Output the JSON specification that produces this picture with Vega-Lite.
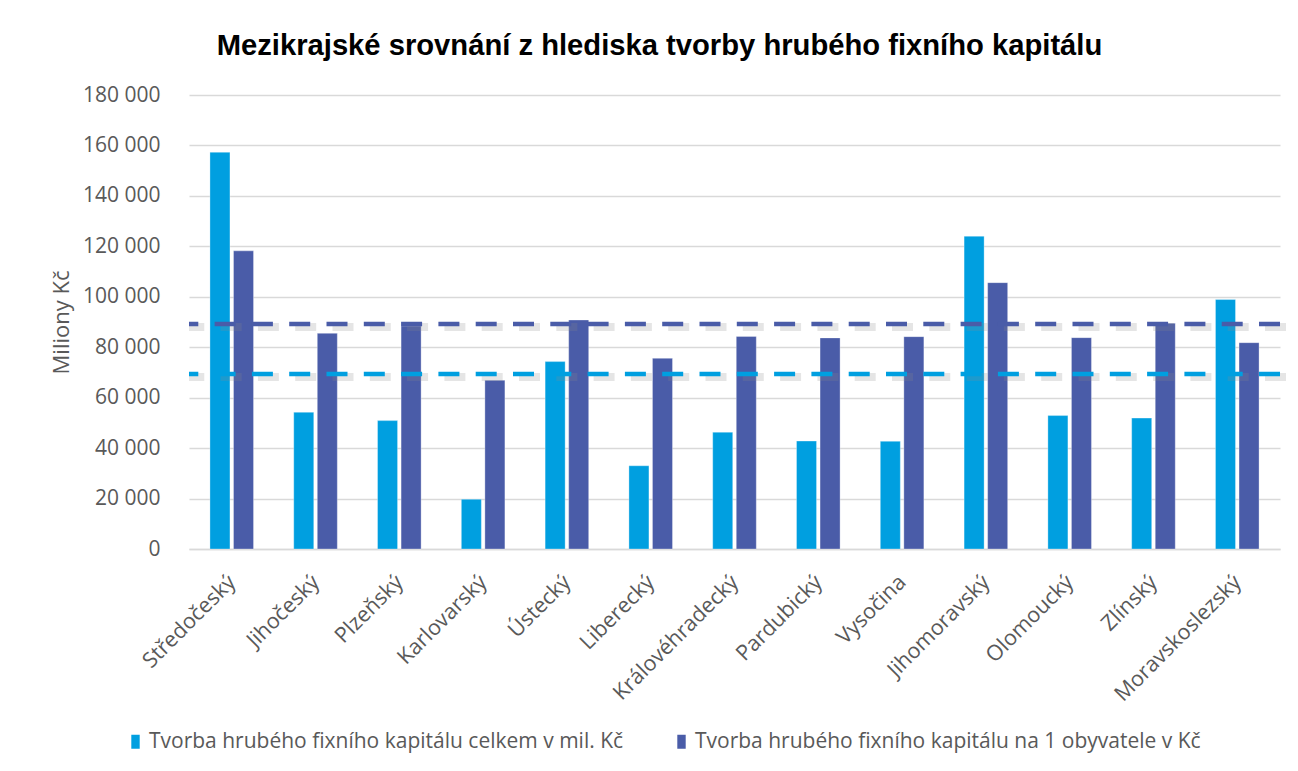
{
  "$schema": "https://vega.github.io/schema/vega-lite/v6.json",
  "width": 1091,
  "height": 454,
  "autosize": {"type": "none"},
  "padding": {"left": 189, "top": 95, "right": 18, "bottom": 222},
  "background": "white",
  "title": {
    "text": "Mezikrajské srovnání z hlediska tvorby hrubého fixního kapitálu",
    "font": "Liberation Sans",
    "fontSize": 29.2,
    "fontWeight": "bold",
    "color": "#000000",
    "anchor": "middle",
    "dx": -75,
    "offset": 23
  },
  "datasets": {
    "bars": [
      {"kraj": "Středočeský", "series": "Tvorba hrubého fixního kapitálu celkem v mil. Kč", "value": 157300},
      {"kraj": "Středočeský", "series": "Tvorba hrubého fixního kapitálu na 1 obyvatele v Kč", "value": 118200},
      {"kraj": "Jihočeský", "series": "Tvorba hrubého fixního kapitálu celkem v mil. Kč", "value": 54200},
      {"kraj": "Jihočeský", "series": "Tvorba hrubého fixního kapitálu na 1 obyvatele v Kč", "value": 85500},
      {"kraj": "Plzeňský", "series": "Tvorba hrubého fixního kapitálu celkem v mil. Kč", "value": 50900},
      {"kraj": "Plzeňský", "series": "Tvorba hrubého fixního kapitálu na 1 obyvatele v Kč", "value": 88400},
      {"kraj": "Karlovarský", "series": "Tvorba hrubého fixního kapitálu celkem v mil. Kč", "value": 19700},
      {"kraj": "Karlovarský", "series": "Tvorba hrubého fixního kapitálu na 1 obyvatele v Kč", "value": 66900},
      {"kraj": "Ústecký", "series": "Tvorba hrubého fixního kapitálu celkem v mil. Kč", "value": 74300},
      {"kraj": "Ústecký", "series": "Tvorba hrubého fixního kapitálu na 1 obyvatele v Kč", "value": 90800},
      {"kraj": "Liberecký", "series": "Tvorba hrubého fixního kapitálu celkem v mil. Kč", "value": 33000},
      {"kraj": "Liberecký", "series": "Tvorba hrubého fixního kapitálu na 1 obyvatele v Kč", "value": 75600},
      {"kraj": "Královéhradecký", "series": "Tvorba hrubého fixního kapitálu celkem v mil. Kč", "value": 46300},
      {"kraj": "Královéhradecký", "series": "Tvorba hrubého fixního kapitálu na 1 obyvatele v Kč", "value": 84300},
      {"kraj": "Pardubický", "series": "Tvorba hrubého fixního kapitálu celkem v mil. Kč", "value": 42800},
      {"kraj": "Pardubický", "series": "Tvorba hrubého fixního kapitálu na 1 obyvatele v Kč", "value": 83700},
      {"kraj": "Vysočina", "series": "Tvorba hrubého fixního kapitálu celkem v mil. Kč", "value": 42700},
      {"kraj": "Vysočina", "series": "Tvorba hrubého fixního kapitálu na 1 obyvatele v Kč", "value": 84200},
      {"kraj": "Jihomoravský", "series": "Tvorba hrubého fixního kapitálu celkem v mil. Kč", "value": 124000},
      {"kraj": "Jihomoravský", "series": "Tvorba hrubého fixního kapitálu na 1 obyvatele v Kč", "value": 105600},
      {"kraj": "Olomoucký", "series": "Tvorba hrubého fixního kapitálu celkem v mil. Kč", "value": 52900},
      {"kraj": "Olomoucký", "series": "Tvorba hrubého fixního kapitálu na 1 obyvatele v Kč", "value": 83800},
      {"kraj": "Zlínský", "series": "Tvorba hrubého fixního kapitálu celkem v mil. Kč", "value": 51900},
      {"kraj": "Zlínský", "series": "Tvorba hrubého fixního kapitálu na 1 obyvatele v Kč", "value": 89500},
      {"kraj": "Moravskoslezský", "series": "Tvorba hrubého fixního kapitálu celkem v mil. Kč", "value": 98900},
      {"kraj": "Moravskoslezský", "series": "Tvorba hrubého fixního kapitálu na 1 obyvatele v Kč", "value": 81800}
    ],
    "lines": [
      {"line": "průměr celkem", "value": 69400},
      {"line": "průměr na obyvatele", "value": 89200}
    ]
  },
  "encoding": {
    "y": {
      "field": "value",
      "type": "quantitative",
      "title": "Miliony Kč",
      "scale": {"domain": [0, 180000], "nice": false},
      "axis": {
        "values": [0, 20000, 40000, 60000, 80000, 100000, 120000, 140000, 160000, 180000],
        "labelExpr": "replace(format(datum.value, ','), ',', ' ')",
        "grid": true,
        "gridColor": "#D9D9D9",
        "gridWidth": 1.3,
        "domain": false,
        "ticks": false,
        "labelFont": "Open Sans",
        "labelFontSize": 21,
        "labelColor": "#595959",
        "labelPadding": 29,
        "titleFont": "Open Sans",
        "titleFontSize": 22,
        "titleColor": "#595959",
        "titleFontWeight": "normal",
        "titlePadding": 9,
        "titleLimit": 0
      }
    }
  },
  "layer": [
    {
      "data": {"name": "bars"},
      "mark": {"type": "bar", "stroke": "#ffffff", "strokeOpacity": 0.4, "strokeWidth": 0.8},
      "encoding": {
        "x": {
          "field": "kraj",
          "type": "nominal",
          "sort": null,
          "title": null,
          "scale": {"paddingInner": 0.48, "paddingOuter": 0.25},
          "axis": {
            "labelAngle": -45,
            "labelFont": "Open Sans",
            "labelFontSize": 21.5,
            "labelColor": "#595959",
            "ticks": false,
            "domainColor": "#D9D9D9",
            "domainWidth": 1.3,
            "labelPadding": 22,
            "labelOffset": -7,
            "grid": false
          }
        },
        "xOffset": {
          "field": "series",
          "type": "nominal",
          "scale": {
            "domain": ["Tvorba hrubého fixního kapitálu celkem v mil. Kč", "Tvorba hrubého fixního kapitálu na 1 obyvatele v Kč"],
            "paddingInner": 0.15
          }
        },
        "color": {
          "field": "series",
          "type": "nominal",
          "scale": {
            "domain": ["Tvorba hrubého fixního kapitálu celkem v mil. Kč", "Tvorba hrubého fixního kapitálu na 1 obyvatele v Kč"],
            "range": ["#009FE0", "#4A5CA8"]
          },
          "legend": {
            "orient": "none",
            "legendX": -64,
            "legendY": 636,
            "direction": "horizontal",
            "title": null,
            "symbolType": "M-0.6,-1H0.6V1H-0.6Z",
            "symbolSize": 196,
            "symbolStrokeWidth": 0,
            "labelFontSize": 21,
            "labelColor": "#595959",
            "labelFont": "Open Sans",
            "labelLimit": 0,
            "columnPadding": 47,
            "labelOffset": 3
          }
        }
      }
    },
    {
      "data": {"name": "lines"},
      "mark": {"type": "rule", "color": "#8a8a8a", "opacity": 0.22, "strokeWidth": 8, "strokeDash": [21, 16.3], "yOffset": 3, "xOffset": 6}
    },
    {
      "data": {"name": "lines"},
      "mark": {"type": "rule", "strokeWidth": 4.5, "strokeDash": [21, 16.3]},
      "encoding": {
        "color": {
          "field": "line",
          "type": "nominal",
          "scale": {"domain": ["průměr celkem", "průměr na obyvatele"], "range": ["#009FE0", "#4A5CA8"]},
          "legend": null
        }
      }
    }
  ],
  "resolve": {"scale": {"color": "independent"}},
  "config": {
    "font": "Open Sans",
    "view": {"stroke": null}
  }
}
